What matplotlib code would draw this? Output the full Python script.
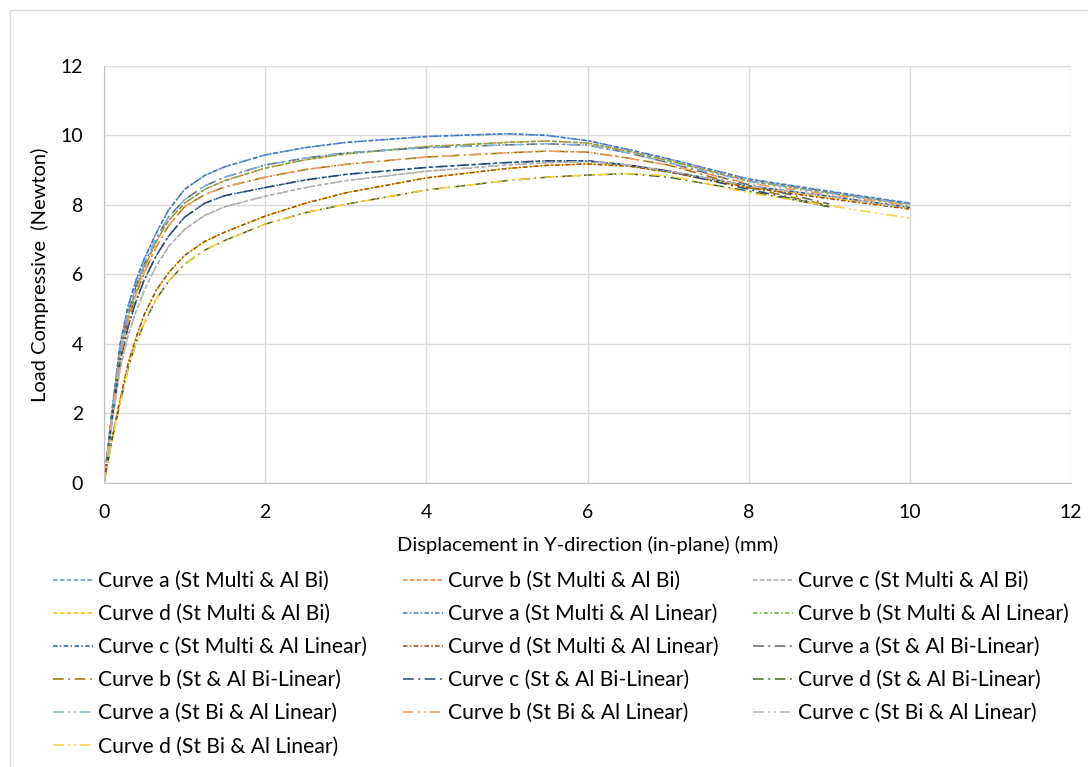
import matplotlib
matplotlib.use('Agg')
import matplotlib.pyplot as plt
from matplotlib.patches import Rectangle

plt.rcParams['font.family'] = ['Lato', 'DejaVu Sans']

# displacement (mm) sample points shared by all curves
x_pts = [0, 0.1, 0.2, 0.3, 0.4, 0.5, 0.65, 0.8, 1.0, 1.25, 1.5, 2, 2.5, 3, 4,
         5, 5.5, 6, 6.5, 7, 8, 9, 10]
x_bilin = x_pts[:-1]  # St & Al Bi-Linear runs stop at 9 mm

# St Multi & Al Bi
a_multi_bi = [0, 2.1, 4.0, 5.1, 5.85, 6.45, 7.2, 7.85, 8.45, 8.85, 9.1, 9.44, 9.65, 9.8, 9.97,
              10.05, 10.0, 9.85, 9.6, 9.33, 8.75, 8.4, 8.06]
b_multi_bi = [0, 1.95, 3.75, 4.8, 5.6, 6.2, 6.95, 7.55, 8.05, 8.45, 8.7, 9.06, 9.3, 9.47, 9.68,
              9.8, 9.84, 9.78, 9.55, 9.28, 8.7, 8.36, 8.03]
c_multi_bi = [0, 1.75, 3.3, 4.25, 4.95, 5.55, 6.25, 6.8, 7.3, 7.7, 7.95, 8.25, 8.5, 8.7, 8.97,
              9.15, 9.22, 9.25, 9.15, 8.98, 8.55, 8.25, 7.92]
d_multi_bi = [0, 1.3, 2.4, 3.45, 4.2, 4.85, 5.55, 6.05, 6.55, 6.95, 7.22, 7.68, 8.05, 8.35, 8.78,
              9.05, 9.14, 9.18, 9.12, 8.95, 8.5, 8.2, 7.9]

# St Multi & Al Linear
a_multi_lin = [0, 2.1, 4.0, 5.1, 5.85, 6.45, 7.2, 7.85, 8.45, 8.85, 9.1, 9.44, 9.65, 9.8, 9.97,
               10.05, 10.0, 9.85, 9.6, 9.33, 8.74, 8.38, 8.04]
b_multi_lin = [0, 1.95, 3.75, 4.8, 5.6, 6.2, 6.95, 7.55, 8.05, 8.45, 8.7, 9.06, 9.3, 9.47, 9.68,
               9.8, 9.84, 9.78, 9.55, 9.28, 8.68, 8.34, 8.0]
c_multi_lin = [0, 1.85, 3.5, 4.5, 5.25, 5.85, 6.55, 7.1, 7.65, 8.05, 8.27, 8.5, 8.72, 8.88, 9.08,
               9.22, 9.27, 9.27, 9.15, 8.98, 8.55, 8.25, 7.93]
d_multi_lin = [0, 1.3, 2.4, 3.45, 4.2, 4.85, 5.55, 6.05, 6.55, 6.95, 7.22, 7.68, 8.05, 8.35, 8.78,
               9.05, 9.14, 9.18, 9.12, 8.95, 8.5, 8.18, 7.88]

# St & Al Bi-Linear (to 9 mm)
a_bilin = [0, 2.0, 3.85, 4.9, 5.7, 6.3, 7.05, 7.65, 8.15, 8.55, 8.8, 9.15, 9.35, 9.5, 9.65,
           9.73, 9.76, 9.72, 9.5, 9.22, 8.58, 8.03]
b_bilin = [0, 1.9, 3.6, 4.65, 5.45, 6.05, 6.8, 7.4, 7.95, 8.3, 8.52, 8.8, 9.02, 9.17, 9.38,
           9.5, 9.55, 9.52, 9.35, 9.15, 8.5, 7.98]
c_bilin = [0, 1.85, 3.5, 4.5, 5.25, 5.85, 6.55, 7.1, 7.65, 8.05, 8.27, 8.5, 8.72, 8.88, 9.08,
           9.22, 9.27, 9.27, 9.15, 8.98, 8.45, 7.95]
d_bilin = [0, 1.25, 2.3, 3.3, 4.05, 4.6, 5.3, 5.8, 6.3, 6.7, 6.98, 7.45, 7.78, 8.02, 8.43,
           8.7, 8.8, 8.86, 8.9, 8.8, 8.4, 7.95]

# St Bi & Al Linear
a_bi_lin = [0, 2.0, 3.85, 4.9, 5.7, 6.3, 7.05, 7.65, 8.15, 8.55, 8.8, 9.15, 9.35, 9.5, 9.65,
            9.73, 9.76, 9.72, 9.5, 9.22, 8.68, 8.34, 8.02]
b_bi_lin = [0, 1.9, 3.6, 4.65, 5.45, 6.05, 6.8, 7.4, 7.95, 8.3, 8.52, 8.8, 9.02, 9.17, 9.38,
            9.5, 9.55, 9.52, 9.35, 9.15, 8.62, 8.3, 7.97]
c_bi_lin = [0, 1.75, 3.3, 4.25, 4.95, 5.55, 6.25, 6.8, 7.3, 7.7, 7.95, 8.25, 8.5, 8.7, 8.97,
            9.15, 9.22, 9.25, 9.15, 8.98, 8.55, 8.24, 7.9]
d_bi_lin = [0, 1.25, 2.3, 3.3, 4.05, 4.6, 5.3, 5.8, 6.3, 6.7, 6.98, 7.45, 7.78, 8.02, 8.43,
            8.7, 8.8, 8.86, 8.9, 8.85, 8.35, 7.98, 7.62]

labels = [
    'Curve a (St Multi & Al Bi)', 'Curve b (St Multi & Al Bi)',
    'Curve c (St Multi & Al Bi)', 'Curve d (St Multi & Al Bi)',
    'Curve a (St Multi & Al Linear)', 'Curve b (St Multi & Al Linear)',
    'Curve c (St Multi & Al Linear)', 'Curve d (St Multi & Al Linear)',
    'Curve a (St & Al Bi-Linear)', 'Curve b (St & Al Bi-Linear)',
    'Curve c (St & Al Bi-Linear)', 'Curve d (St & Al Bi-Linear)',
    'Curve a (St Bi & Al Linear)', 'Curve b (St Bi & Al Linear)',
    'Curve c (St Bi & Al Linear)', 'Curve d (St Bi & Al Linear)',
]
series = [a_multi_bi, b_multi_bi, c_multi_bi, d_multi_bi,
          a_multi_lin, b_multi_lin, c_multi_lin, d_multi_lin,
          a_bilin, b_bilin, c_bilin, d_bilin,
          a_bi_lin, b_bi_lin, c_bi_lin, d_bi_lin]
colors = ['#5B9BD5', '#ED7D31', '#A5A5A5', '#FFC000',
          '#4472C4', '#70AD47', '#255E91', '#9E480E',
          '#636363', '#997300', '#264478', '#43682B',
          '#7CAFDD', '#F1975A', '#B7B7B7', '#FFCD33']
group_styles = [(0, (3, 1.5)),
                (0, (3, 1.5, 1, 1.5)),
                (0, (7, 3, 1.2, 3)),
                (0, (7, 3, 1.2, 2.5, 1.2, 2.5))]

fig = plt.figure(figsize=(10.88, 7.67), dpi=100)
ax = fig.add_axes([0.0956, 0.3703, 0.8888, 0.5437])

handles = []
for i, ys in enumerate(series):
    xs = x_bilin if 8 <= i < 12 else x_pts
    ln, = ax.plot(xs, ys, color=colors[i], lw=1.1, ls=group_styles[i // 4],
                  label=labels[i])
    handles.append(ln)

ax.set_xlim(0, 12)
ax.set_ylim(0, 12)
ax.set_xticks(range(0, 13, 2))
ax.set_yticks(range(0, 13, 2))
ax.grid(True, color='#D9D9D9', lw=1)
ax.set_axisbelow(True)
for s in ['top', 'right']:
    ax.spines[s].set_visible(False)
for s in ['left', 'bottom']:
    ax.spines[s].set_color('#BFBFBF')
ax.tick_params(length=0, labelsize=14, colors='#000000')
ax.tick_params(axis='y', pad=15)
ax.tick_params(axis='x', pad=15)
ax.set_xlabel('Displacement in Y-direction (in-plane) (mm)', fontsize=14.5, labelpad=11)
ax.set_ylabel('Load Compressive  (Newton)', fontsize=14.5, labelpad=8)

# legend is filled row by row: one legend per column, pinned like the original
col_x = [53, 403, 753]
for c in range(3):
    idx = list(range(c, 16, 3))
    fig.legend([handles[k] for k in idx], [labels[k] for k in idx],
               loc='upper left', bbox_to_anchor=(col_x[c] / 1088, 1 - 571 / 767),
               frameon=False, fontsize=15.2, handlelength=1.9, handletextpad=0.25,
               labelspacing=0.62, borderpad=0, borderaxespad=0)

fig.patches.append(Rectangle((10 / 1088, -0.1), 1.2, 1.1 - 10 / 767, transform=fig.transFigure,
                             fill=False, edgecolor='#D9D9D9', lw=1))

fig.savefig('out.png', dpi=100)
